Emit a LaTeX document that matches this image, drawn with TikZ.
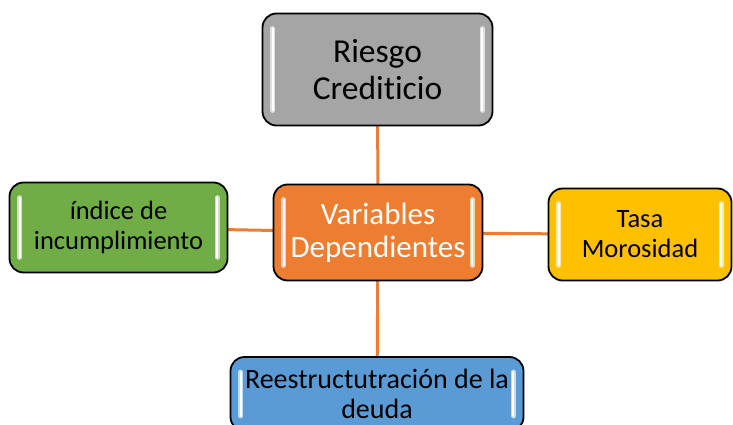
\documentclass[tikz,border=0pt]{standalone}
\usepackage{fontspec}
\setmainfont{Carlito}[Ligatures=NoCommon]
\definecolor{cgray}{HTML}{A5A5A5}
\definecolor{corange}{HTML}{ED7D31}
\definecolor{cgreen}{HTML}{70AD47}
\definecolor{cyellow}{HTML}{FFC000}
\definecolor{cblue}{HTML}{5B9BD5}
\pgfdeclarelayer{bg}
\pgfsetlayers{bg,main}
\begin{document}
\begin{tikzpicture}[x=1pt,y=-1pt,
  box/.style={draw=black, line width=1.8pt, rounded corners=14pt, align=center, inner sep=0pt},
  link/.style={draw=corange, line width=3pt}]
\useasboundingbox (0,0) rectangle (733,425);
\clip (0,0) rectangle (733,425);
\node[box, fill=cgray, minimum width=230pt, minimum height=112pt,
      font=\fontsize{33.5}{37}\selectfont] (risk) at (377.5,69.5) {Riesgo\\Crediticio};
\node[box, fill=corange, text=white, minimum width=209pt, minimum height=96pt,
      font=\fontsize{31}{33}\selectfont] (var) at (378,232.5) {Variables\\Dependientes};
\node[box, fill=cgreen, minimum width=218pt, minimum height=90pt,
      font=\fontsize{26.5}{30}\selectfont] (idx) at (118.5,227.5) {índice de\\incumplimiento};
\node[box, fill=cyellow, minimum width=183pt, minimum height=92pt,
      font=\fontsize{26.5}{30}\selectfont] (tasa) at (640,234.5) {Tasa\\Morosidad};
\node[box, fill=cblue, minimum width=293pt, minimum height=74pt,
      font=\fontsize{28}{30}\selectfont] (deuda) at (377,394) {Reestructutración de la\\deuda};
\begin{pgfonlayer}{bg}
  \draw[link] (var.center) -- (risk.center);
  \draw[link] (var.center) -- (idx.center);
  \draw[link] (var.center) -- (tasa.center);
  \draw[link] (var.center) -- (deuda.center);
\end{pgfonlayer}
\foreach \n/\c in {risk/cgray, var/corange, idx/cgreen, tasa/cyellow, deuda/cblue}{
  \draw[line width=5pt, \c!35!white, line cap=round]
    ([xshift=11pt,yshift=-16pt]\n.north west) -- ([xshift=11pt,yshift=16pt]\n.south west);
  \draw[line width=5pt, \c!35!white, line cap=round]
    ([xshift=-11pt,yshift=-16pt]\n.north east) -- ([xshift=-11pt,yshift=16pt]\n.south east);
  \draw[line width=2pt, white, line cap=round]
    ([xshift=11pt,yshift=-16pt]\n.north west) -- ([xshift=11pt,yshift=16pt]\n.south west);
  \draw[line width=2pt, white, line cap=round]
    ([xshift=-11pt,yshift=-16pt]\n.north east) -- ([xshift=-11pt,yshift=16pt]\n.south east);
}
\end{tikzpicture}
\end{document}
